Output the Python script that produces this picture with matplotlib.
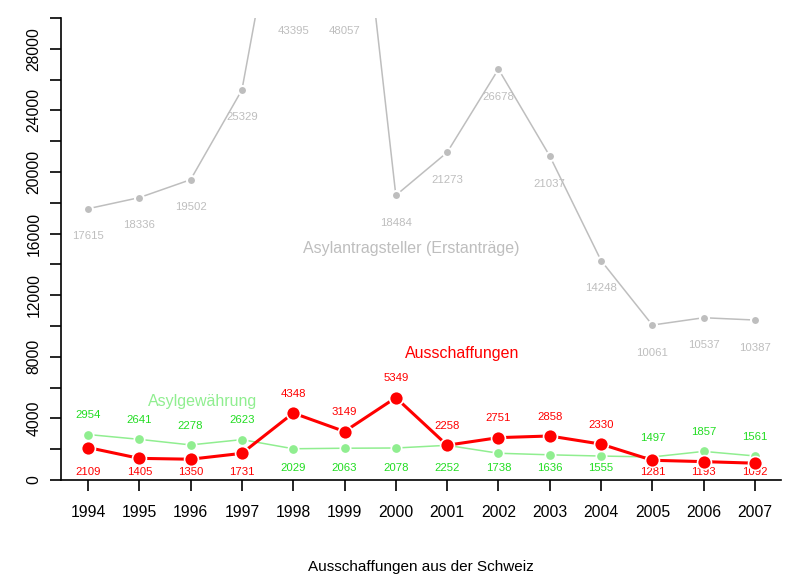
import matplotlib.pyplot as plt
import numpy as np

plt.rcParams['font.family'] = ['Liberation Sans', 'DejaVu Sans']

jahre = list(range(1994, 2008))
asylantrag = [17615, 18336, 19502, 25329, 43395, 48057, 18484, 21273, 26678, 21037, 14248, 10061, 10537, 10387]
asylgewaehrung = [2954, 2641, 2278, 2623, 2029, 2063, 2078, 2252, 1738, 1636, 1555, 1497, 1857, 1561]
ausschaffungen = [2109, 1405, 1350, 1731, 4348, 3149, 5349, 2258, 2751, 2858, 2330, 1281, 1193, 1092]

# +1 = Beschriftung oberhalb, -1 = unten an fester Hoehe
pos_rot = [-1, -1, -1, -1, 1, 1, 1, 1, 1, 1, 1, -1, -1, -1]
pos_gruen = [1, 1, 1, 1, -1, -1, -1, -1, -1, -1, -1, 1, 1, 1]

grau = '#bebebe'
hellgruen = '#90ee90'
gruen = '#22dd22'
rot = '#ff0000'
ymax = 30000

fig = plt.figure(figsize=(8, 5.77), dpi=100)
ax = fig.add_axes([61/800, 1-480/577, 720/800, 462/577])

ax.plot(jahre, asylantrag, color=grau, lw=1.1, marker='o', ms=6.5,
        mec='white', mew=1.5, zorder=2)
ax.plot(jahre, asylgewaehrung, color=hellgruen, lw=1.1, marker='o', ms=7.5,
        mec='white', mew=1.2, zorder=3)
ax.plot(jahre, ausschaffungen, color=rot, lw=2.2, marker='o', ms=10,
        mec='white', mew=1.2, zorder=4)

for x, v in zip(jahre, asylantrag):
    if v > ymax:
        ax.annotate(str(v), (x, ymax), xytext=(0, -9), textcoords='offset points',
                    ha='center', va='center', color=grau, fontsize=8.2)
    else:
        ax.annotate(str(v), (x, v), xytext=(0, -19.8), textcoords='offset points',
                    ha='center', va='center', color=grau, fontsize=8.2)

for x, v, p in zip(jahre, asylgewaehrung, pos_gruen):
    if p > 0:
        ax.annotate(str(v), (x, v), xytext=(0, 13.8), textcoords='offset points',
                    ha='center', va='center', color=gruen, fontsize=8.2)
    else:
        ax.text(x, 780, str(v), ha='center', va='center', color=gruen, fontsize=8.2)

for x, v, p in zip(jahre, ausschaffungen, pos_rot):
    if p > 0:
        ax.annotate(str(v), (x, v), xytext=(0, 13.8), textcoords='offset points',
                    ha='center', va='center', color=rot, fontsize=8.2)
    else:
        ax.text(x, 520, str(v), ha='center', va='center', color=rot, fontsize=8.2)

ax.text(2000.3, 15050, 'Asylantragsteller (Erstanträge)', color=grau,
        fontsize=11.5, ha='center', va='center')
ax.text(2001.29, 8190, 'Ausschaffungen', color=rot, fontsize=11.5,
        ha='center', va='center')
ax.text(1996.23, 5090, 'Asylgewährung', color=hellgruen, fontsize=11.5,
        ha='center', va='center')

ax.set_xlim(1993.474, 2007.507)
ax.set_ylim(0, ymax)
ax.set_xticks(jahre)
ax.set_xticklabels([str(j) for j in jahre], fontsize=11.3)
ax.set_yticks(np.arange(0, 30001, 4000))
ax.set_yticks(np.arange(2000, 30001, 4000), minor=True)
ax.set_yticklabels([str(t) for t in range(0, 30001, 4000)], fontsize=11.3,
                   rotation=90, va='center')
ax.tick_params(which='both', direction='out', length=8, width=1.2, colors='black')
ax.tick_params(axis='x', pad=10)
ax.tick_params(axis='y', pad=6)
ax.spines['top'].set_visible(False)
ax.spines['right'].set_visible(False)
ax.spines['left'].set_linewidth(1.2)
ax.spines['bottom'].set_linewidth(1.2)
ax.set_xlabel('Ausschaffungen aus der Schweiz', fontsize=11, labelpad=29)

fig.savefig('out.png', dpi=100)
